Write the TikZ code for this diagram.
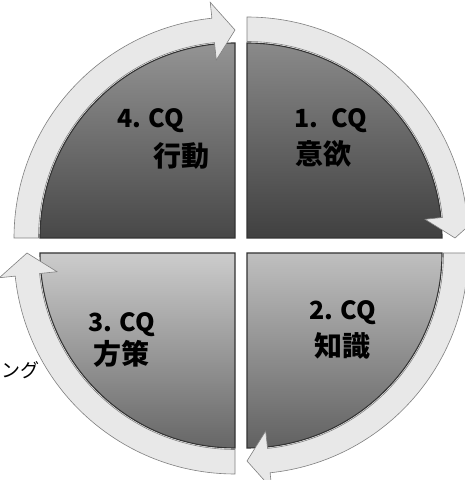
\documentclass[tikz,border=0pt]{standalone}
\usepackage{fontspec}
\setmainfont{Noto Sans CJK JP}
\tikzset{
  x=1pt, y=1pt,
  sector/.style={draw=black!80, line width=1.1pt},
  cycarrow/.style={fill=black!9, draw=black!50, line width=0.6pt},
  lbl/.style={font=\bfseries\fontsize{25}{28}\selectfont, text=black, inner sep=0pt},
  lblj/.style={font=\bfseries\fontsize{28}{30}\selectfont, text=black, inner sep=0pt},
  side/.style={font=\fontsize{19}{21}\selectfont, text=black, inner sep=0pt}
}
\newcommand{\cycarrowpath}[2]{% start angle, end angle (tip)
  (#1:221) arc[start angle=#1, end angle=#2+6, radius=221pt]
  -- (#2+6:237) -- (#2:208) -- (#2+6:179) -- (#2+6:196.5)
  arc[start angle=#2+6, end angle=#1, radius=196.5pt] -- cycle}
\begin{document}
\begin{tikzpicture}
\useasboundingbox (0,0) rectangle (464,480);
\fill[white] (0,0) rectangle (464,480);
% sectors
\shade[sector, top color=black!42, bottom color=black!72]
  (235,242) -- ++(180:195) arc[start angle=180, end angle=90, radius=195pt] -- cycle;
\shade[sector, top color=black!46, bottom color=black!75]
  (247,242) -- ++(90:195) arc[start angle=90, end angle=0, radius=195pt] -- cycle;
\shade[sector, top color=black!25, bottom color=black!62]
  (247,227) -- ++(0:195) arc[start angle=360, end angle=270, radius=195pt] -- cycle;
\shade[sector, top color=black!20, bottom color=black!60]
  (235,227) -- ++(270:195) arc[start angle=270, end angle=180, radius=195pt] -- cycle;
% arrows
\begin{scope}[shift={(247,242)}]
  \path[cycarrow] \cycarrowpath{90}{0};
\end{scope}
\begin{scope}[shift={(247,227)}]
  \path[cycarrow] \cycarrowpath{360}{270};
\end{scope}
\begin{scope}[shift={(235,227)}]
  \path[cycarrow] \cycarrowpath{270}{180};
\end{scope}
\begin{scope}[shift={(235,242)}]
  \path[cycarrow] \cycarrowpath{180}{90};
\end{scope}
% labels
\node[lbl, anchor=base west] (t4) at (117,352) {4. CQ};
\node[lblj] (t4j) at (181,324.5) {行動};
\node[lbl, anchor=base west] (t1) at (294,352) {1.\hspace{0.55em}CQ};
\node[lblj] (t1j) at (323,326.5) {意欲};
\node[lbl, anchor=base west] (t3) at (88,148) {3. CQ};
\node[lblj] (t3j) at (121,126.5) {方策};
\node[lbl, anchor=base west] (t2) at (309,160) {2. CQ};
\node[lblj] (t2j) at (342,134.5) {知識};
\node[side, anchor=west] (ext) at (1,110) {ング};
\end{tikzpicture}
\end{document}
